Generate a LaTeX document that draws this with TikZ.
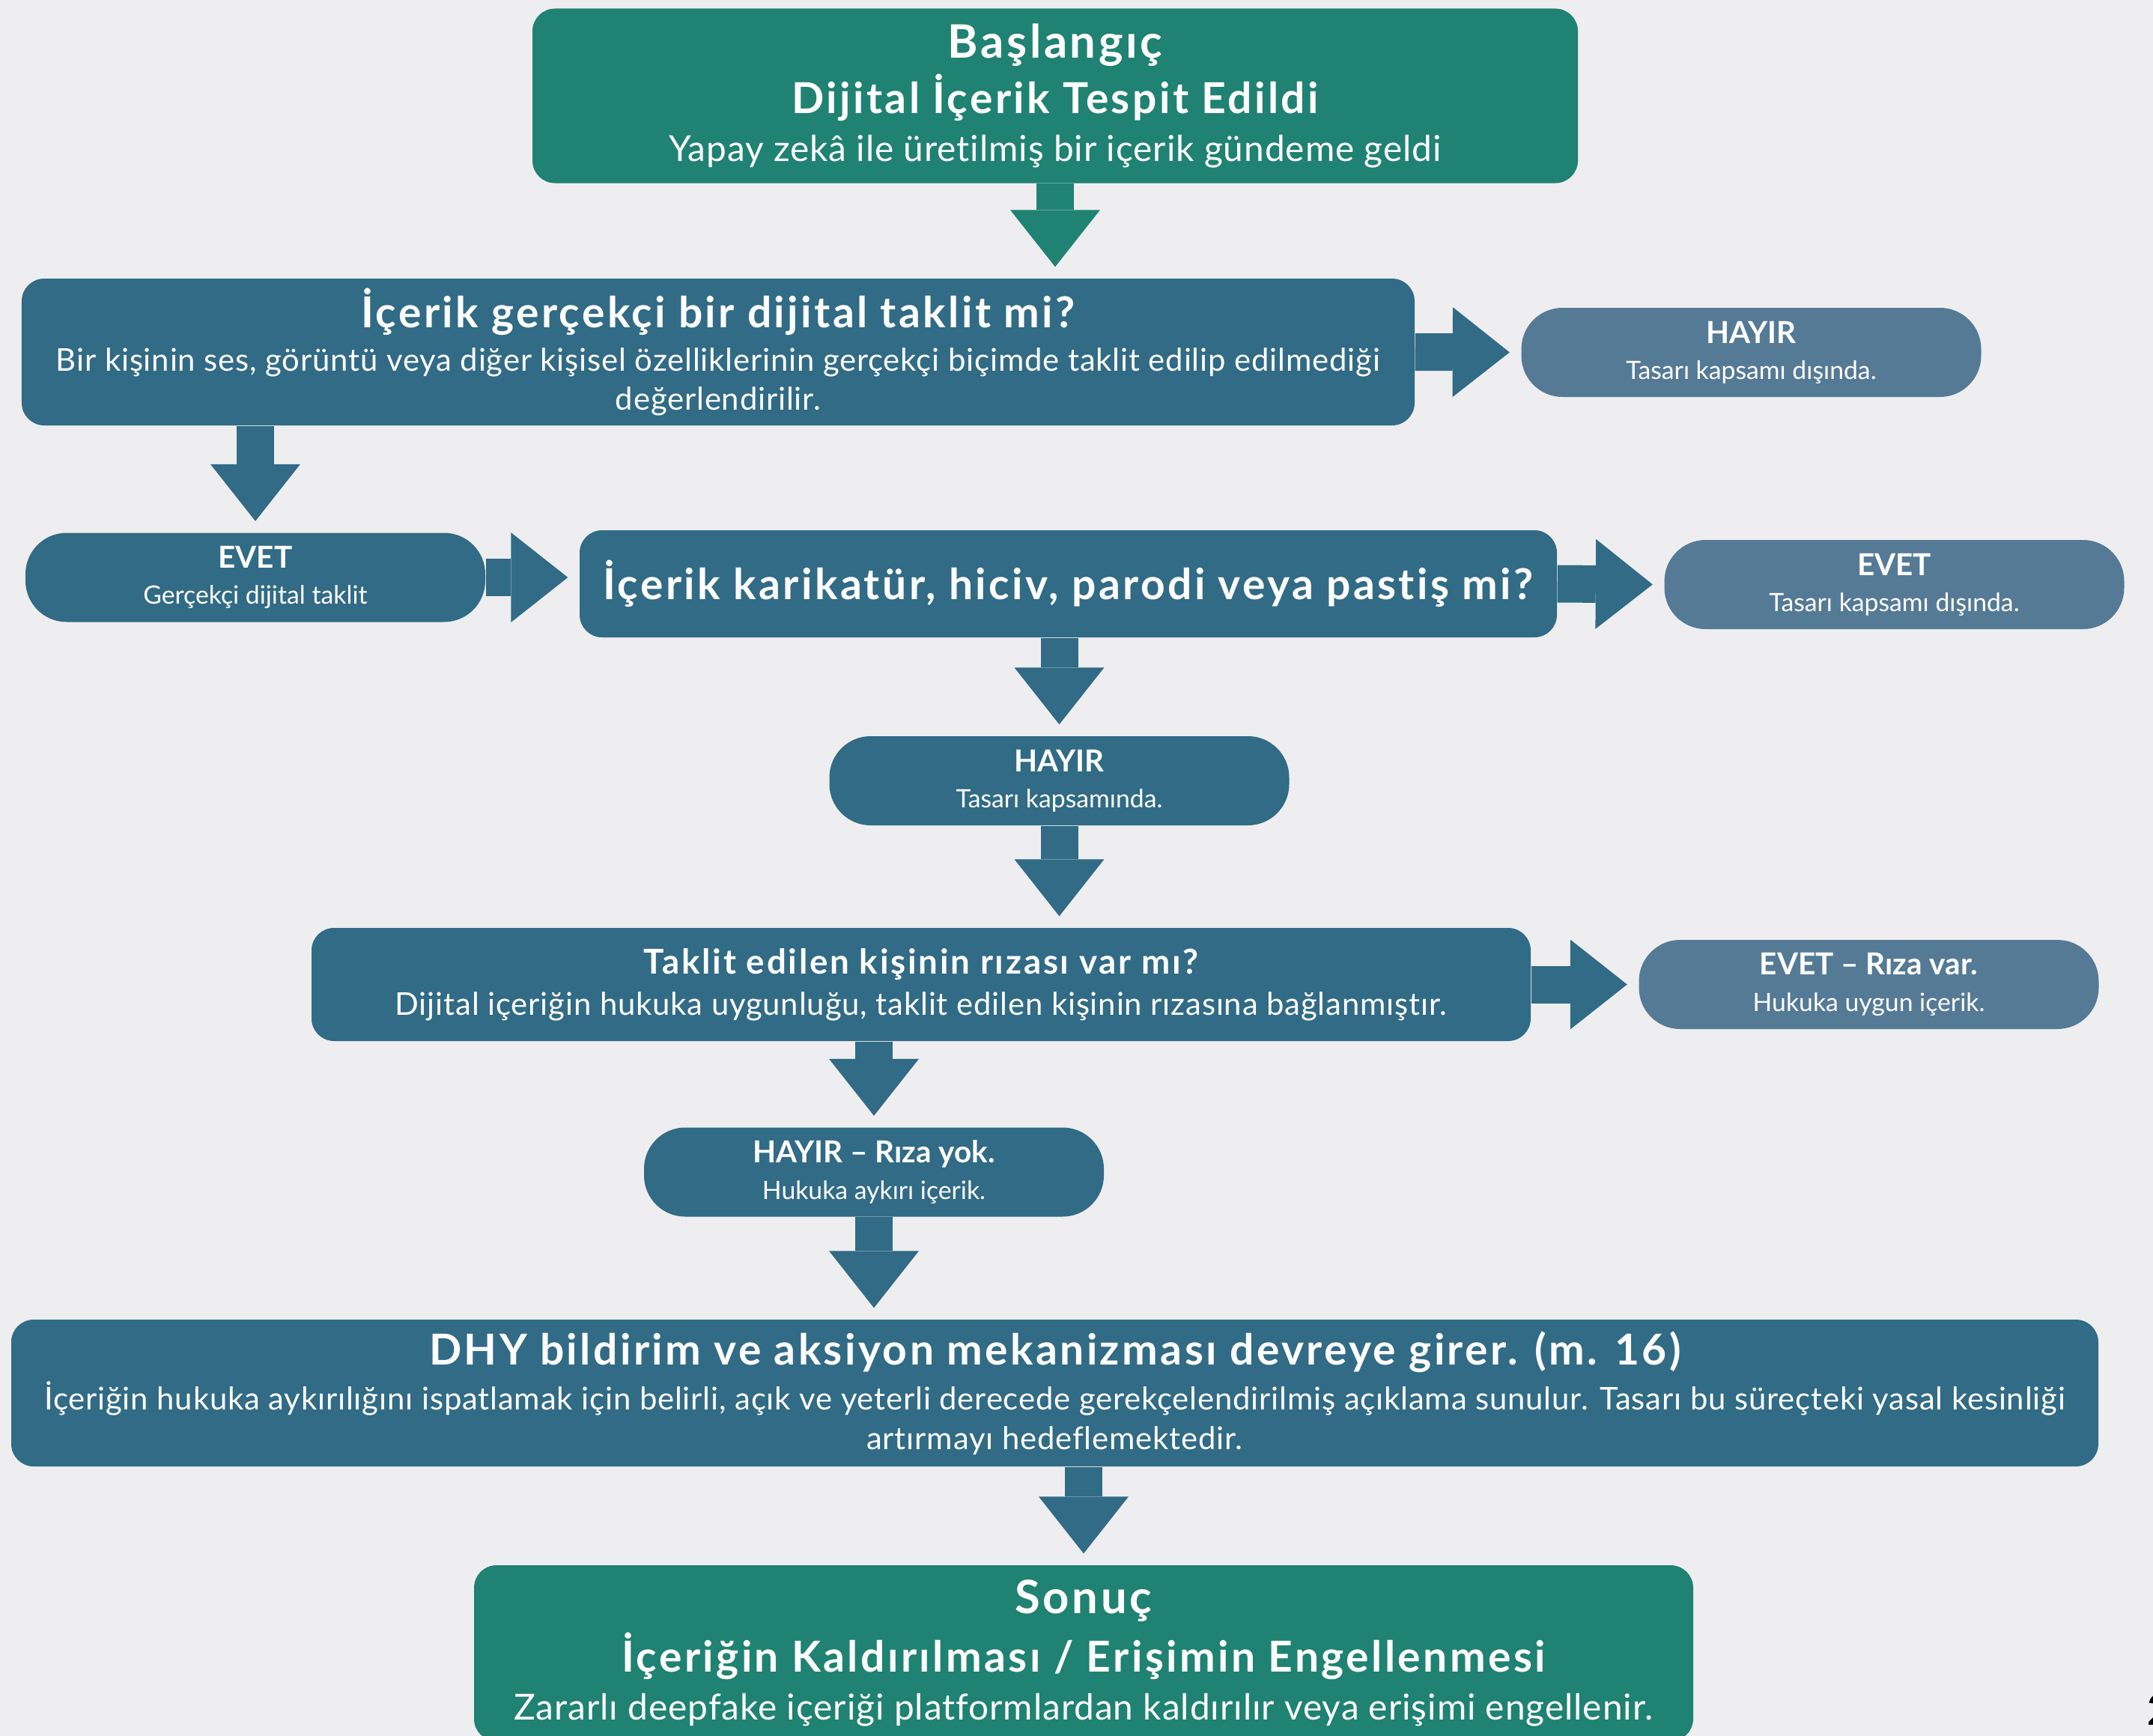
\documentclass[tikz,border=0pt]{standalone}
\usepackage{fontspec}
\setmainfont[Ligatures=NoCommon]{Lato}
\newfontfamily\headfam[LetterSpace=6,Ligatures=NoCommon]{Lato}
\newfontfamily\subfam[LetterSpace=2,Ligatures=NoCommon]{Lato}
\usetikzlibrary{arrows.meta,positioning}

\definecolor{bgcol}{HTML}{EEEEF0}
\definecolor{tealbox}{HTML}{1F8272}
\definecolor{qblue}{HTML}{316B85}
\definecolor{sideblue}{HTML}{557A96}

\newcommand{\ttl}{\headfam\bfseries\fontsize{17.5}{19}\selectfont}
\newcommand{\hd}{\headfam\bfseries\fontsize{16.2}{19}\selectfont}
\newcommand{\hq}{\headfam\bfseries\fontsize{13}{16}\selectfont}
\newcommand{\tx}{\subfam\fontsize{13.6}{15}\selectfont}
\newcommand{\txs}{\subfam\fontsize{11.9}{15}\selectfont}
\newcommand{\pillhd}{\bfseries\fontsize{11.5}{11}\selectfont}
\newcommand{\pilltx}{\fontsize{9.6}{11}\selectfont}

\begin{document}
\begin{tikzpicture}[
box/.style={rounded corners=0.3cm, text=white, align=center, inner sep=0pt},
pill/.style={rounded corners=0.55cm, text=white, align=center, inner sep=0pt, minimum width=6.14cm, minimum height=1.19cm, font=\pilltx},
flow/.style={line width=0.5cm, draw=qblue, shorten >=0.15cm, -{Triangle[length=0.76cm, width=1.2cm, line width=0pt]}}]

\fill[bgcol] (0,0) rectangle (28.75,-23.18);
\useasboundingbox (0,0) rectangle (28.75,-23.18);

\node[box, fill=tealbox, minimum width=13.96cm, minimum height=2.33cm, font=\tx] (start) at (14.09,-1.28) {{\ttl Başlangıç}\\[2pt]{\hd Dijital İçerik Tespit Edildi}\\[3.2pt]Yapay zekâ ile üretilmiş bir içerik gündeme geldi};
\node[box, fill=qblue, minimum width=18.60cm, minimum height=1.96cm, font=\txs] (q1) at (9.59,-4.70) {{\hd İçerik gerçekçi bir dijital taklit mi?}\\[1.5pt]Bir kişinin ses, görüntü veya diğer kişisel özelliklerinin gerçekçi biçimde taklit edilip edilmediği\\değerlendirilir.};
\node[pill, fill=sideblue] (no1) at (23.385,-4.705) {{\pillhd HAYIR}\\[2.7pt]Tasarı kapsamı dışında.};
\node[pill, fill=qblue] (yes1) at (3.41,-7.71) {{\pillhd EVET}\\[2.7pt]Gerçekçi dijital taklit};
\node[box, fill=qblue, minimum width=13.05cm, minimum height=1.43cm] (q2) at (14.265,-7.795) {\hd İçerik karikatür, hiciv, parodi veya pastiş mi?};
\node[pill, fill=sideblue] (yes2) at (25.295,-7.805) {{\pillhd EVET}\\[2.7pt]Tasarı kapsamı dışında.};
\node[pill, fill=qblue] (no2) at (14.145,-10.425) {{\pillhd HAYIR}\\[2.7pt]Tasarı kapsamında.};
\node[box, fill=qblue, minimum width=16.28cm, minimum height=1.51cm, font=\txs] (q3) at (12.30,-13.145) {{\hq Taklit edilen kişinin rızası var mı?}\\[0.6pt]Dijital içeriğin hukuka uygunluğu, taklit edilen kişinin rızasına bağlanmıştır.};
\node[pill, fill=sideblue] (yes3) at (24.955,-13.145) {{\pillhd EVET – Rıza var.}\\[2.7pt]Hukuka uygun içerik.};
\node[pill, fill=qblue] (no3) at (11.67,-15.65) {{\pillhd HAYIR – Rıza yok.}\\[2.7pt]Hukuka aykırı içerik.};
\node[box, fill=qblue, minimum width=27.87cm, minimum height=1.96cm, font=\txs] (dhy) at (14.085,-18.60) {{\hd DHY bildirim ve aksiyon mekanizması devreye girer. (m. 16)}\\[2pt]İçeriğin hukuka aykırılığını ispatlamak için belirli, açık ve yeterli derecede gerekçelendirilmiş açıklama sunulur. Tasarı bu süreçteki yasal kesinliği\\artırmayı hedeflemektedir.};
\node[box, fill=tealbox, minimum width=16.28cm, minimum height=2.35cm, font=\tx] (end) at (14.47,-22.075) {{\ttl Sonuç}\\[3.2pt]{\hd İçeriğin Kaldırılması / Erişimin Engellenmesi}\\[3.1pt]Zararlı deepfake içeriği platformlardan kaldırılır veya erişimi engellenir.};
\node[anchor=base west, font=\bfseries\fontsize{16}{16}\selectfont, inner sep=0pt] (pageno) at (28.665,-23.03) {2};

\draw[flow, draw=tealbox] (start) -- (start |- q1.north);
\draw[flow] (q1.south -| yes1) -- (yes1.north);
\draw[flow] (q1.east) -- (no1.west);
\draw[flow] (yes1.east) -- (q2.west |- yes1.east);
\draw[flow] (q2.east) -- (yes2.west);
\draw[flow] (q2.south -| no2) -- (no2.north);
\draw[flow] (no2) -- (no2 |- q3.north);
\draw[flow] (q3.east) -- (yes3.west);
\draw[flow] (q3.south -| no3) -- (no3.north);
\draw[flow] (no3) -- (no3 |- dhy.north);
\draw[flow] (dhy.south -| end) -- (end.north);

\end{tikzpicture}
\end{document}
